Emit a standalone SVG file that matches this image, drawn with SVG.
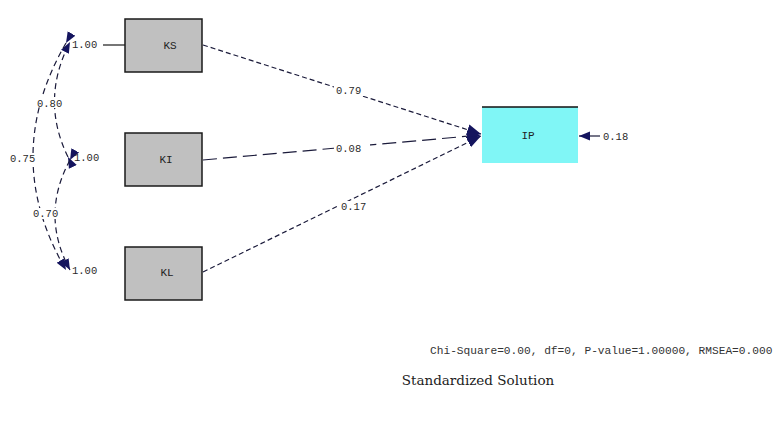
<svg xmlns="http://www.w3.org/2000/svg" width="783" height="423" viewBox="0 0 783 423">
  <defs>
    <marker id="arr" viewBox="0 0 10 10" refX="10" refY="5" markerWidth="11" markerHeight="11" markerUnits="userSpaceOnUse" orient="auto">
      <path d="M0,1 L10,5 L0,9 Z" fill="#14145e"/>
    </marker>
    <marker id="arrBig" viewBox="0 0 10 10" refX="10" refY="5" markerWidth="14" markerHeight="14" markerUnits="userSpaceOnUse" orient="auto">
      <path d="M0,1 L10,5 L0,9 Z" fill="#14145e"/>
    </marker>
  </defs>
  <style>
    .obs { fill: #c0c0c0; stroke: #1a1a1a; stroke-width: 1.5; }
    .lat { fill: #80f6f6; }
    .lbl { font-family: "Liberation Mono", "DejaVu Sans Mono", monospace; font-size: 10.5px; fill: #2a2a2a; }
    .name { font-family: "Liberation Mono", "DejaVu Sans Mono", monospace; font-size: 11px; fill: #222; text-anchor: middle; }
    .path { fill: none; stroke: #1a1a3a; stroke-width: 1.2; stroke-dasharray: 5 3; }
    .long { stroke-dasharray: 14 6; }
    .cov { fill: none; stroke: #1a1a3a; stroke-width: 1.2; stroke-dasharray: 6 4; }
  </style>
  <rect width="783" height="423" fill="#ffffff"/>

  <!-- regression paths and covariances -->
  <g id="connectors">
    <path class="path" d="M203,45 L481,134" marker-end="url(#arrBig)"/>
    <path class="path long" d="M203,160 L481,135" marker-end="url(#arrBig)"/>
    <path class="path" d="M203,272 L481,136" marker-end="url(#arrBig)"/>
    <path class="path" d="M600,136 L579,136" marker-end="url(#arr)" style="stroke-dasharray:none"/>
    <line x1="103" y1="45" x2="125" y2="45" stroke="#1a1a1a" stroke-width="1.2"/>
    <!-- KS - KI -->
    <path class="cov" d="M68,157 Q40,100 70,42" marker-start="url(#arr)" marker-end="url(#arr)"/>
    <!-- KI - KL -->
    <path class="cov" d="M70,160 Q40,215 70,270" marker-start="url(#arr)" marker-end="url(#arr)"/>
    <!-- KS - KL -->
    <path class="cov" d="M66,43 Q0,157 66,270" marker-start="url(#arr)" marker-end="url(#arr)"/>
    <rect x="40" y="97" width="22" height="11" fill="#fff"/>
    <text class="lbl" x="37" y="107">0.80</text>
    <rect x="10" y="153" width="27" height="11" fill="#fff"/>
    <text class="lbl" x="10" y="162">0.75</text>
    <rect x="32" y="208" width="31" height="11" fill="#fff"/>
    <text class="lbl" x="33" y="217">0.70</text>
    <rect x="334" y="85" width="36" height="11" fill="#fff"/>
    <text class="lbl" x="336" y="94">0.79</text>
    <rect x="334" y="143" width="36" height="11" fill="#fff"/>
    <text class="lbl" x="336" y="152">0.08</text>
    <rect x="339" y="201" width="34" height="11" fill="#fff"/>
    <text class="lbl" x="341" y="210">0.17</text>
  </g>

  <g id="KS">
    <rect class="obs" x="125" y="19" width="77" height="53"/>
    <text class="name" x="170" y="49">KS</text>
    <text class="lbl" x="72" y="48">1.00</text>
  </g>
  <g id="KI">
    <rect class="obs" x="125" y="133" width="77" height="53"/>
    <text class="name" x="166" y="163">KI</text>
    <text class="lbl" x="74" y="161">1.00</text>
  </g>
  <g id="KL">
    <rect class="obs" x="125" y="247" width="77" height="53"/>
    <text class="name" x="167" y="276">KL</text>
    <text class="lbl" x="72" y="274">1.00</text>
  </g>
  <g id="IP">
    <rect class="lat" x="482" y="107" width="96" height="56"/>
    <line x1="482" y1="107" x2="578" y2="107" stroke="#111" stroke-width="1.6"/>
    <text class="name" x="528" y="139">IP</text>
    <text class="lbl" x="603" y="140">0.18</text>
  </g>

  <text x="430" y="354" font-family="Liberation Mono, DejaVu Sans Mono, monospace" font-size="11.2" fill="#333">Chi-Square=0.00, df=0, P-value=1.00000, RMSEA=0.000</text>
  <text x="478" y="385" font-family="DejaVu Serif, Liberation Serif, serif" font-size="13.5" fill="#222" text-anchor="middle">Standardized Solution</text>
</svg>
